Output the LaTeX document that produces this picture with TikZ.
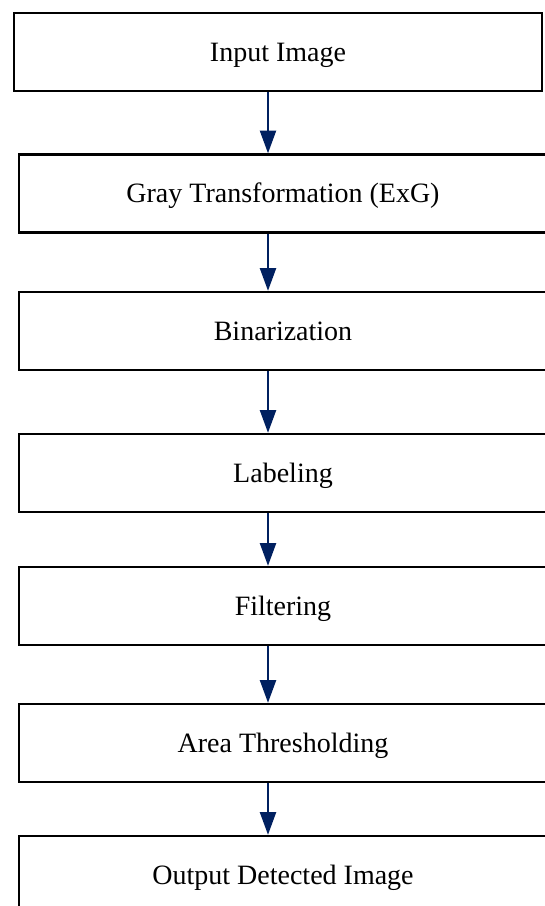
\documentclass[tikz,border=0pt]{standalone}
\usepackage{fontspec}
\setmainfont{Liberation Serif}
\usetikzlibrary{arrows.meta}
\definecolor{navy}{HTML}{002060}
\tikzset{
  box/.style={draw=black, line width=1.8pt, fill=white, minimum width=528*0.75pt, minimum height=78*0.75pt, inner sep=0pt, text height=13.9pt, text depth=0pt, font=\fontsize{21}{25}\selectfont},
  flow/.style={draw=navy, line width=1.6pt, -{Triangle[length=17pt,width=12pt]}}
}
\begin{document}
\begin{tikzpicture}[x=0.75pt,y=-0.75pt]
\useasboundingbox (0,0) rectangle (545,906);
\clip (0,0) rectangle (545,906);
\fill[white] (0,0) rectangle (545,906);
\node[box] (b1) at (278,52) {Input Image};
\node[box] (b2) at (283,193.5) {Gray Transformation (ExG)};
\node[box] (b3) at (283,331) {Binarization};
\node[box] (b4) at (283,473) {Labeling};
\node[box] (b5) at (283,606) {Filtering};
\node[box] (b6) at (283,743) {Area Thresholding};
\node[box] (b7) at (283,875) {Output Detected Image};
\coordinate (ax) at (268,0);
\draw[flow] (b1.south -| ax) -- (b2.north -| ax);
\draw[flow] (b2.south -| ax) -- (b3.north -| ax);
\draw[flow] (b3.south -| ax) -- (b4.north -| ax);
\draw[flow] (b4.south -| ax) -- (b5.north -| ax);
\draw[flow] (b5.south -| ax) -- (b6.north -| ax);
\draw[flow] (b6.south -| ax) -- (b7.north -| ax);
\end{tikzpicture}
\end{document}
